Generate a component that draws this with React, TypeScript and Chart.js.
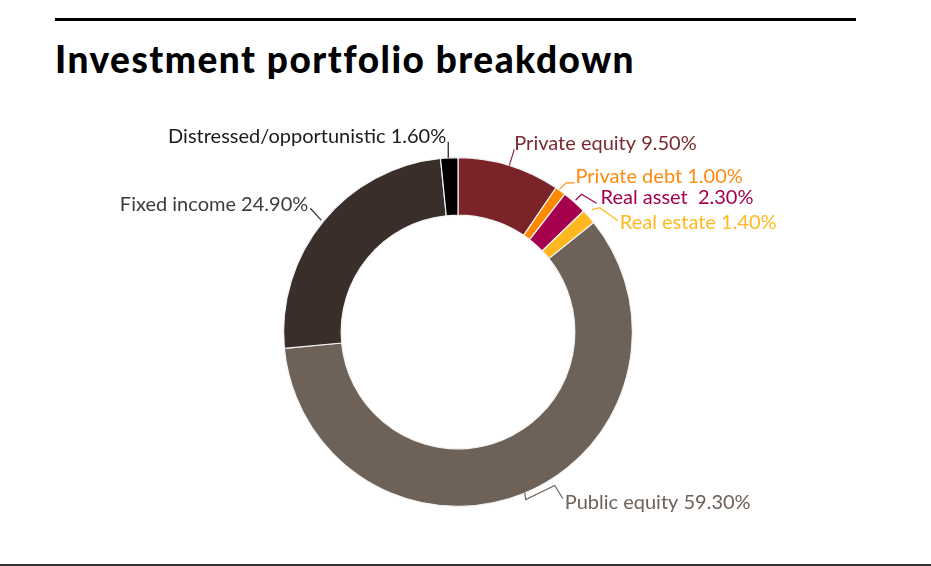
import { useEffect, useRef } from "react";
import { Chart, registerables, type Plugin } from "chart.js";

Chart.register(...registerables);

const categories = [
    "Private equity",
    "Private debt",
    "Real asset ",
    "Real estate",
    "Public equity",
    "Fixed income",
    "Distressed/opportunistic",
];
const shares = [9.5, 1.0, 2.3, 1.4, 59.3, 24.9, 1.6];
const sliceColors = ["#7a2429", "#ff8a00", "#a5004e", "#ffb81f", "#6e6158", "#3a2e2b", "#000000"];
const textColors = ["#7a2a30", "#ff8a10", "#a5004e", "#ffb81f", "#6e6158", "#3c3c3c", "#1a1a1a"];

// leader line shape per slice, relative to the slice's outer mid point
const leaders: { path: [number, number][]; dx: number; dy: number; align: CanvasTextAlign }[] = [
    { path: [[0, 0], [5, -16]], dx: 0, dy: 1, align: "left" },
    { path: [[-1, -2], [6, -8], [14, -8]], dx: 1, dy: 0, align: "left" },
    { path: [[1, -2], [7, -8], [22, 1]], dx: 4, dy: 1, align: "left" },
    { path: [[3, -7], [11, -9], [29, 4]], dx: 2, dy: 8, align: "left" },
    { path: [[1, -1], [2, 6], [31, -8], [39, 5]], dx: 2, dy: 10, align: "left" },
    { path: [[-2, -1], [-13, -13]], dx: -2, dy: 3, align: "right" },
    { path: [[-1, 0], [-1, -16]], dx: -2, dy: 1, align: "right" },
];

const calloutPlugin: Plugin<"doughnut"> = {
    id: "callouts",
    afterDatasetsDraw(chart) {
        const ctx = chart.ctx;
        const meta = chart.getDatasetMeta(0);
        ctx.save();
        ctx.font = '20px Lato';
        ctx.lineWidth = 1.2;
        meta.data.forEach((el, i) => {
            const { x, y, startAngle, endAngle, outerRadius } = (el as any).getProps(
                ["x", "y", "startAngle", "endAngle", "outerRadius"], true);
            const mid = (startAngle + endAngle) / 2;
            const ax = x + Math.cos(mid) * outerRadius;
            const ay = y + Math.sin(mid) * outerRadius;
            const l = leaders[i];
            ctx.strokeStyle = textColors[i];
            ctx.beginPath();
            l.path.forEach(([px, py], j) => {
                if (j === 0) ctx.moveTo(ax + px, ay + py);
                else ctx.lineTo(ax + px, ay + py);
            });
            ctx.stroke();
            const [ex, ey] = l.path[l.path.length - 1];
            ctx.fillStyle = textColors[i];
            ctx.textAlign = l.align;
            ctx.textBaseline = "alphabetic";
            ctx.fillText(`${categories[i]} ${shares[i].toFixed(2)}%`, ax + ex + l.dx, ay + ey + l.dy);
        });
        ctx.restore();
    },
};

const PortfolioDonut = () => {
    const chartRef = useRef<HTMLCanvasElement>(null);
    const chartInstance = useRef<Chart<"doughnut"> | null>(null);

    useEffect(() => {
        if (!chartRef.current) return;
        if (chartInstance.current) chartInstance.current.destroy();

        chartInstance.current = new Chart(chartRef.current, {
            type: "doughnut",
            data: {
                labels: categories,
                datasets: [
                    {
                        data: shares,
                        backgroundColor: sliceColors,
                        borderColor: "#f4f4f4",
                        borderWidth: 1.2,
                    },
                ],
            },
            options: {
                responsive: false,
                animation: false,
                cutout: "67%",
                layout: { padding: { left: 283, right: 298, top: 157, bottom: 59 } },
                plugins: {
                    legend: { display: false },
                    tooltip: { enabled: false },
                },
            },
            plugins: [calloutPlugin],
        });

        return () => {
            if (chartInstance.current) {
                chartInstance.current.destroy();
                chartInstance.current = null;
            }
        };
    }, []);

    return (
        <canvas ref={chartRef} width={931} height={566}
            style={{ position: "absolute", left: 0, top: 0, width: 931, height: 566 }}></canvas>
    );
};

export default function App() {
    return (
        <div style={{ position: "fixed", left: 0, top: 0, width: 931, height: 566, background: "#fff", overflow: "hidden" }}>
            <div style={{ position: "absolute", left: 55, top: 18, width: 801, height: 3, background: "#000" }} />
            <div style={{
                position: "absolute", left: 55, top: 37, font: "900 37px Lato", color: "#000",
                lineHeight: "44px", whiteSpace: "nowrap", letterSpacing: "1.5px",
            }}>
                Investment portfolio breakdown
            </div>
            <PortfolioDonut />
            <div style={{ position: "absolute", left: 0, top: 564, width: 931, height: 2, background: "#333" }} />
        </div>
    );
}
